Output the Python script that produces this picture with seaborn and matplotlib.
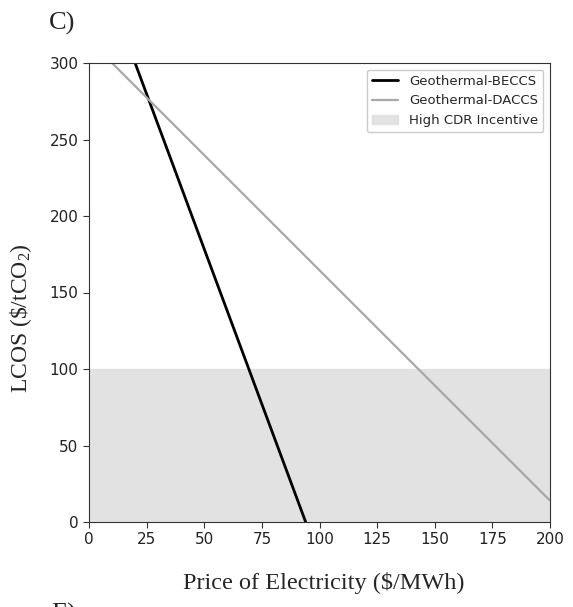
import matplotlib
matplotlib.use("Agg")
import matplotlib.pyplot as plt
import seaborn as sns
import pandas as pd

# Data
beccs_price = [20, 94]
beccs_lcos = [300, 0]
daccs_price = [10, 200]
daccs_lcos = [300, 14]
incentive_range = [0, 100]
x_ticks = [0, 25, 50, 75, 100, 125, 150, 175, 200]
y_ticks = [0, 50, 100, 150, 200, 250, 300]

sns.set_style("ticks")
plt.rcParams['font.family'] = ['DejaVu Sans']

fig = plt.figure(figsize=(5.73, 6.07), dpi=100)
# axes: x 89..550 px, y 63..522 px
ax = fig.add_axes([89 / 573, 1 - 522 / 607, 461 / 573, 459 / 607])

df_b = pd.DataFrame({"price": beccs_price, "lcos": beccs_lcos})
df_d = pd.DataFrame({"price": daccs_price, "lcos": daccs_lcos})

ax.axhspan(incentive_range[0], incentive_range[1], color="#e2e2e2", label="High CDR Incentive", zorder=0)
sns.lineplot(data=df_b, x="price", y="lcos", ax=ax, color="black", lw=2.0, label="Geothermal-BECCS")
sns.lineplot(data=df_d, x="price", y="lcos", ax=ax, color="#a8a8a8", lw=1.6, label="Geothermal-DACCS")

ax.set_xlim(0, 200)
ax.set_ylim(0, 300)
ax.set_xticks(x_ticks)
ax.set_yticks(y_ticks)
ax.tick_params(labelsize=11, length=4, color="#333333", labelcolor="#222222")
for s in ax.spines.values():
    s.set_color("#333333")
ax.set_xlabel("")
ax.set_ylabel("")

handles, labels = ax.get_legend_handles_labels()
order = [labels.index("Geothermal-BECCS"), labels.index("Geothermal-DACCS"), labels.index("High CDR Incentive")]
ax.legend([handles[i] for i in order], [labels[i] for i in order], loc="upper right",
          fontsize=9.5, framealpha=1, borderaxespad=0.5)

fig.text(324 / 573, 1 - 583 / 607, "Price of Electricity ($/MWh)", fontsize=17.5,
         family="Liberation Serif", ha="center", va="center")
plt.rcParams['mathtext.fontset'] = 'custom'
plt.rcParams['mathtext.rm'] = 'Liberation Serif'
plt.rcParams['mathtext.it'] = 'Liberation Serif:italic'
fig.text(21 / 573, 1 - 318 / 607, r"LCOS (\$/tCO$_\mathrm{2}$)", fontsize=17,
         family="Liberation Serif", rotation=90, ha="center", va="center")
fig.text(49 / 573, 1 - 23 / 607, "C)", fontsize=19, family="Liberation Serif", ha="left", va="center")
fig.text(51 / 573, 1 - 614 / 607, "E)", fontsize=19, family="Liberation Serif", ha="left", va="center")

fig.savefig("out.png", dpi=100)
